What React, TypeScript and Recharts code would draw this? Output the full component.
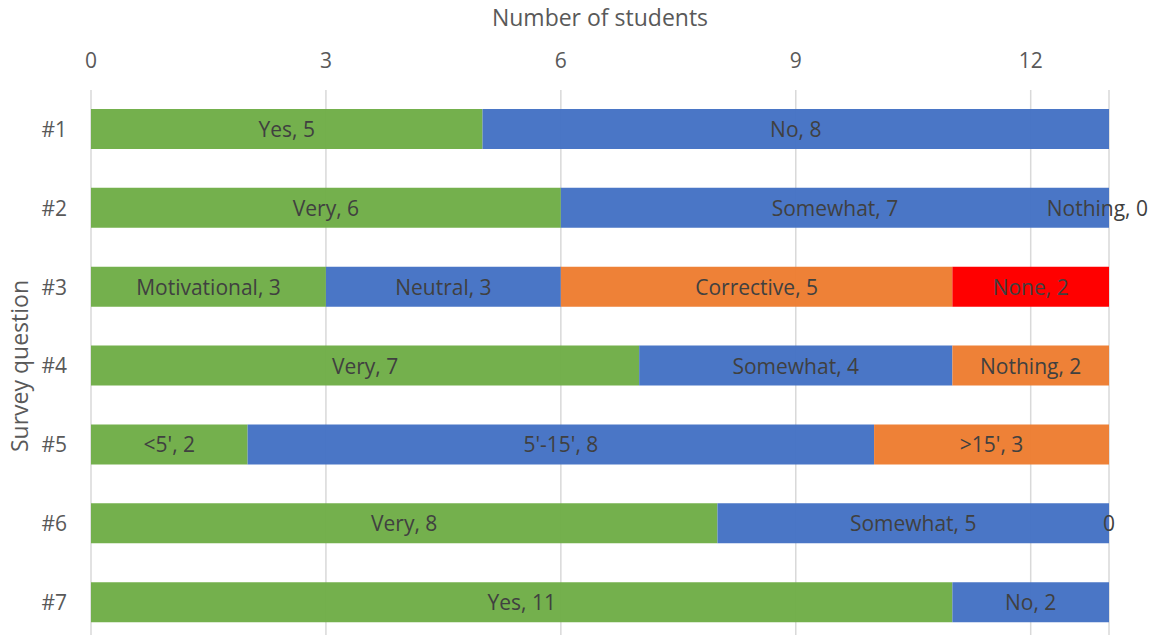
import { Bar, BarChart, CartesianGrid, LabelList, XAxis, YAxis } from "recharts";

const questions = ["#1", "#2", "#3", "#4", "#5", "#6", "#7"];

const firstValues = [5, 6, 3, 7, 2, 8, 11];
const firstNames = ["Yes", "Very", "Motivational", "Very", "<5'", "Very", "Yes"];

const secondValues = [8, 7, 3, 4, 8, 5, 2];
const secondNames = ["No", "Somewhat", "Neutral", "Somewhat", "5'-15'", "Somewhat", "No"];

const thirdValues = [null, 0, 5, 2, 3, 0, null];
const thirdNames = [null, "Nothing", "Corrective", "Nothing", ">15'", "", null];

const fourthValues = [null, null, 2, null, null, null, null];
const fourthNames = [null, null, "None", null, null, null, null];

const xTicks = [0, 3, 6, 9, 12];

const data = questions.map((q, i) => ({
  question: q,
  first: firstValues[i],
  second: secondValues[i],
  third: thirdValues[i],
  fourth: fourthValues[i],
}));

const FONT = "'Open Sans', sans-serif";
const CHART_W = 1150;

function labelText(name: string | null, v: number) {
  return name ? `${name}, ${v}` : `${v}`;
}

function DataText({ x, y, text, anchor = "middle" }: { x: number; y: number; text: string; anchor?: string }) {
  return (
    <text
      x={x}
      y={y}
      textAnchor={anchor}
      dominantBaseline="central"
      fill="#404040"
      fontSize={21}
      fontFamily={FONT}
    >
      {text}
    </text>
  );
}

// label value is the question id, so look the row up by it
function makeLabel(values: (number | null)[], names: (string | null)[]) {
  return (props: any) => {
    const { x, y, width, height, value } = props;
    const i = questions.indexOf(value);
    const v = values[i];
    if (i < 0 || v == null || v === 0) return null;
    return (
      <DataText
        x={Number(x) + Number(width) / 2}
        y={Number(y) + Number(height) / 2}
        text={labelText(names[i], v)}
      />
    );
  };
}

// zero-sized segments get no rect, so their label sits at the end of the previous one
// (long ones are pushed back inside the chart, like Excel does)
function zeroLabel(values: (number | null)[], names: (string | null)[]) {
  return (props: any) => {
    const { x, y, width, height, value } = props;
    const i = questions.indexOf(value);
    if (i < 0 || values[i] !== 0) return null;
    const text = labelText(names[i], 0);
    const end = Number(x) + Number(width);
    const cy = Number(y) + Number(height) / 2;
    if (text.length > 2) {
      return <DataText x={CHART_W - 2} y={cy} text={text} anchor="end" />;
    }
    return <DataText x={end} y={cy} text={text} />;
  };
}

export default function App() {
  return (
    <div style={{ position: "absolute", top: 0, left: 0, width: CHART_W, height: 635, overflow: "hidden", background: "#fff" }}>
      <BarChart
        width={CHART_W}
        height={650}
        data={data}
        layout="vertical"
        barSize={40}
        margin={{ top: 10, right: 41, bottom: 8, left: 0 }}
      >
        <CartesianGrid horizontal={false} stroke="#D9D9D9" strokeWidth={1.5} />
        <XAxis
          type="number"
          orientation="top"
          domain={[0, 13]}
          ticks={xTicks}
          allowDataOverflow
          axisLine={false}
          tickLine={false}
          tickSize={0}
          tickMargin={22}
          height={80}
          tick={{ fill: "#595959", fontSize: 21, fontFamily: FONT }}
          label={{
            value: "Number of students",
            position: "insideTop",
            offset: 0,
            fill: "#595959",
            fontSize: 23,
            fontFamily: FONT,
          }}
        />
        <YAxis
          type="category"
          dataKey="question"
          width={91}
          axisLine={false}
          tickLine={false}
          tickSize={0}
          tickMargin={24}
          tick={{ fill: "#595959", fontSize: 21, fontFamily: FONT }}
          label={{
            value: "Survey question",
            angle: -90,
            position: "insideLeft",
            offset: 20,
            fill: "#595959",
            fontSize: 23,
            fontFamily: FONT,
            style: { textAnchor: "middle" },
          }}
        />
        <Bar dataKey="first" stackId="s" fill="#70AD47" fillOpacity={0.97} isAnimationActive={false}>
          <LabelList dataKey="question" content={makeLabel(firstValues, firstNames)} />
        </Bar>
        <Bar dataKey="second" stackId="s" fill="#4472C4" fillOpacity={0.97} isAnimationActive={false}>
          <LabelList dataKey="question" content={makeLabel(secondValues, secondNames)} />
          <LabelList dataKey="question" content={zeroLabel(thirdValues, thirdNames)} />
        </Bar>
        <Bar dataKey="third" stackId="s" fill="#ED7D31" fillOpacity={0.97} isAnimationActive={false}>
          <LabelList dataKey="question" content={makeLabel(thirdValues, thirdNames)} />
        </Bar>
        <Bar dataKey="fourth" stackId="s" fill="#FF0000" isAnimationActive={false}>
          <LabelList dataKey="question" content={makeLabel(fourthValues, fourthNames)} />
        </Bar>
      </BarChart>
    </div>
  );
}
